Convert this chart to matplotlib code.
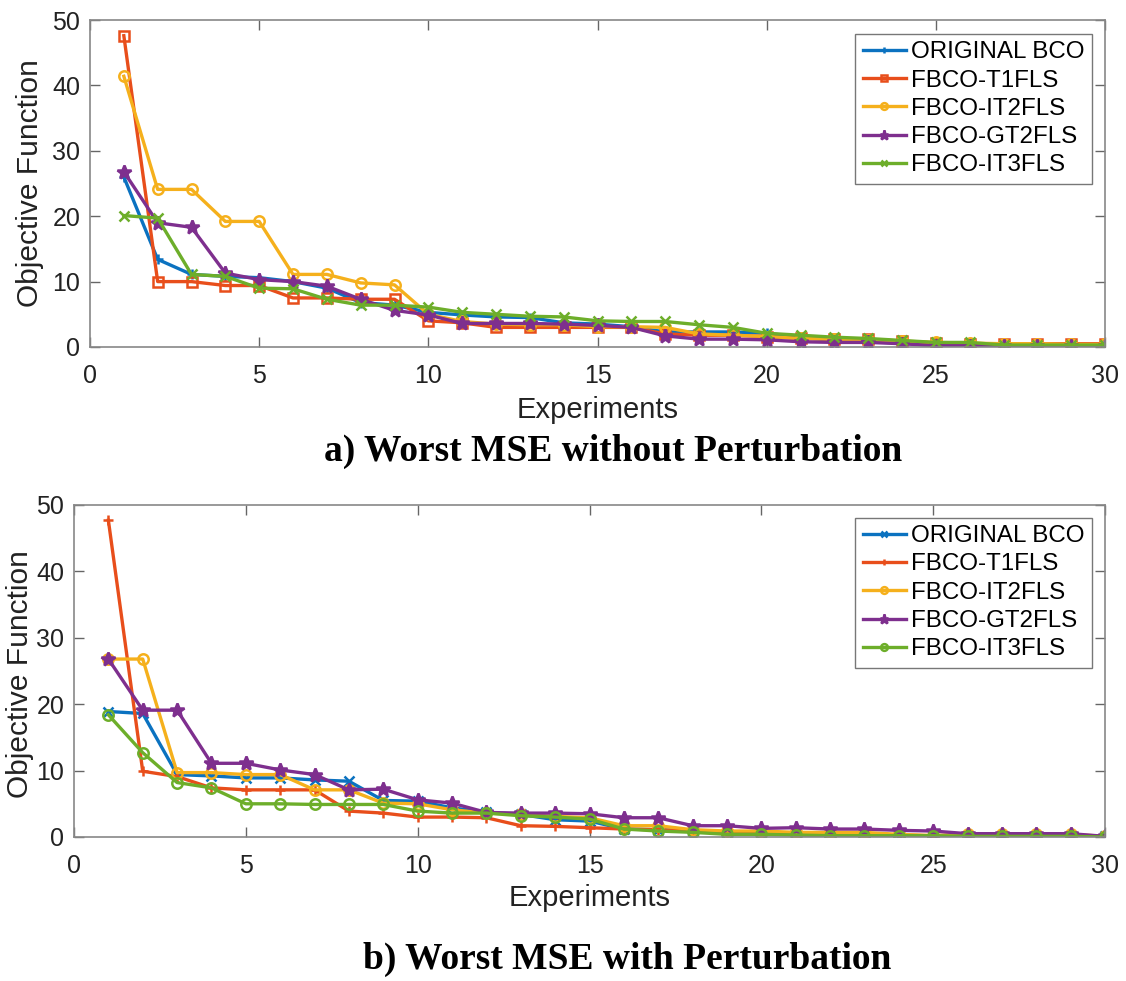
import matplotlib
matplotlib.use("Agg")
import matplotlib.pyplot as plt

experiments = list(range(1, 31))
series_names = ["ORIGINAL BCO", "FBCO-T1FLS", "FBCO-IT2FLS", "FBCO-GT2FLS", "FBCO-IT3FLS"]

# a) without perturbation
bco_a = [26.0, 13.4, 11.1, 10.8, 10.6, 10.0, 9.0, 6.8, 6.4, 5.3, 4.9, 4.6, 4.5, 3.7, 3.5,
         3.1, 2.3, 2.3, 2.3, 2.1, 1.5, 1.0, 0.8, 0.6, 0.2, 0.2, 0.1, 0.1, 0.1, 0.1]
t1_a = [47.6, 10.0, 10.0, 9.4, 9.4, 7.5, 7.5, 7.3, 7.3, 4.0, 3.7, 3.0, 3.0, 3.0, 3.0,
        3.0, 2.0, 1.8, 1.8, 1.6, 1.3, 1.2, 1.2, 0.9, 0.6, 0.5, 0.5, 0.5, 0.5, 0.5]
it2_a = [41.4, 24.1, 24.1, 19.2, 19.2, 11.1, 11.1, 9.8, 9.5, 5.0, 3.9, 3.5, 3.4, 3.4, 3.1,
         3.1, 3.0, 2.0, 1.8, 1.6, 1.3, 1.2, 1.1, 0.9, 0.7, 0.6, 0.5, 0.5, 0.4, 0.4]
gt2_a = [26.8, 19.0, 18.3, 11.3, 10.3, 10.0, 9.3, 7.3, 5.6, 4.9, 3.6, 3.6, 3.6, 3.5, 3.3,
         3.0, 1.7, 1.2, 1.2, 1.1, 0.8, 0.7, 0.7, 0.5, 0.2, 0.2, 0.2, 0.2, 0.2, 0.2]
it3_a = [20.1, 19.7, 11.1, 10.8, 9.0, 8.9, 7.3, 6.4, 6.4, 6.1, 5.3, 5.0, 4.7, 4.6, 4.0,
         3.9, 3.9, 3.4, 3.0, 2.1, 1.8, 1.5, 1.3, 1.0, 0.7, 0.7, 0.3, 0.3, 0.3, 0.3]

# b) with perturbation
bco_b = [18.9, 18.6, 9.4, 9.2, 8.9, 8.9, 8.6, 8.4, 5.5, 5.4, 4.4, 3.7, 3.4, 2.6, 2.4,
         1.2, 1.1, 0.9, 0.6, 0.5, 0.4, 0.3, 0.3, 0.2, 0.2, 0.1, 0.1, 0.1, 0.1, 0.1]
t1_b = [47.7, 9.9, 9.1, 7.4, 7.1, 7.1, 7.1, 3.9, 3.6, 3.0, 3.0, 2.9, 1.7, 1.6, 1.4,
        1.2, 1.1, 0.9, 0.6, 0.6, 0.4, 0.3, 0.3, 0.3, 0.2, 0.1, 0.1, 0.1, 0.1, 0.1]
it2_b = [26.8, 26.8, 9.7, 9.7, 9.4, 9.4, 7.1, 7.1, 5.1, 5.0, 4.1, 3.6, 3.4, 3.1, 2.9,
         1.7, 1.7, 1.1, 0.9, 0.9, 0.7, 0.7, 0.7, 0.4, 0.2, 0.5, 0.5, 0.5, 0.4, 0.1]
gt2_b = [26.8, 19.1, 19.1, 11.1, 11.1, 10.1, 9.4, 7.1, 7.2, 5.6, 5.1, 3.7, 3.6, 3.6, 3.5,
         2.9, 2.9, 1.7, 1.7, 1.3, 1.4, 1.2, 1.2, 1.0, 0.9, 0.5, 0.5, 0.5, 0.5, 0.1]
it3_b = [18.4, 12.7, 8.2, 7.4, 5.0, 5.0, 4.9, 4.9, 4.9, 3.9, 3.6, 3.6, 3.2, 3.0, 2.7,
         1.2, 0.9, 0.7, 0.4, 0.4, 0.3, 0.2, 0.2, 0.2, 0.2, 0.1, 0.1, 0.1, 0.1, 0.0]

x_ticks = [0, 5, 10, 15, 20, 25, 30]
y_ticks = [0, 10, 20, 30, 40, 50]
x_label = "Experiments"
y_label = "Objective Function"
titles = ["a) Worst MSE without Perturbation", "b) Worst MSE with Perturbation"]

colors = ["#0B72C0", "#E84E1B", "#F5B01C", "#7E2F8E", "#6DAE2A"]
markers_a = ["+", "s", "o", "*", "x"]
markers_b = ["x", "+", "o", "*", "o"]

plt.rcParams['font.family'] = ['Liberation Sans', 'DejaVu Sans']

W, H = 1126, 981
fig = plt.figure(figsize=(W / 100, H / 100), dpi=100)
# axes boxes in pixels: left, right, top, bottom
box_a = (90, 1105, 20, 347)
box_b = (74, 1105, 505, 837)

def make_axes(b):
    l, r, t, bt = b
    return fig.add_axes([l / W, 1 - bt / H, (r - l) / W, (bt - t) / H])

ax_a = make_axes(box_a)
ax_b = make_axes(box_b)

def draw(ax, box, data, markers, xlab_y, ylab_x, ylab_y, leg_anchor):
    for name, vals, c, m in zip(series_names, data, colors, markers):
        ms = 10 if m == "*" else 7.5
        ax.plot(experiments, vals, color=c, marker=m, markersize=ms, linewidth=2.4,
                markeredgewidth=1.8, markerfacecolor='none' if m in ("o", "s") else c,
                label=name)
    ax.set_xlim(0, 30)
    ax.set_ylim(0, 50)
    ax.set_xticks(x_ticks)
    ax.set_yticks(y_ticks)
    ax.tick_params(direction='in', top=True, right=True, labelsize=18, length=7,
                   color='#666666', width=1, labelcolor='#222222')
    ax.tick_params(axis='x', pad=12)
    ax.tick_params(axis='y', pad=7)
    for s in ax.spines.values():
        s.set_color('#888888')
        s.set_linewidth(1.2)
    l, r, t, bt = box
    ax.set_xlabel(x_label, fontsize=21, va='center', color='#222222')
    ax.xaxis.set_label_coords(0.5, (bt - xlab_y) / (bt - t))
    ax.set_ylabel(y_label, fontsize=21.5, va='center', color='#222222')
    ax.yaxis.set_label_coords((ylab_x - l) / (r - l), ylab_y)
    leg = ax.legend(loc='upper right', fontsize=17.4, frameon=True, fancybox=False,
                    edgecolor='#555555', handlelength=1.8, handletextpad=0.2,
                    borderpad=0.3, labelspacing=0.26, markerscale=0.65,
                    borderaxespad=0, bbox_to_anchor=leg_anchor)
    leg.get_frame().set_linewidth(1.0)

draw(ax_a, box_a, [bco_a, t1_a, it2_a, gt2_a, it3_a], markers_a,
     xlab_y=410, ylab_x=30, ylab_y=0.5, leg_anchor=(0.987, 0.957))
draw(ax_b, box_b, [bco_b, t1_b, it2_b, gt2_b, it3_b], markers_b,
     xlab_y=898, ylab_x=20, ylab_y=0.49, leg_anchor=(0.987, 0.961))

fig.text(613 / W, 1 - 451 / H, titles[0], ha='center', va='center',
         fontsize=27, fontweight='bold', family='Liberation Serif')
fig.text(627 / W, 1 - 959 / H, titles[1], ha='center', va='center',
         fontsize=27, fontweight='bold', family='Liberation Serif')

fig.savefig("out.png", dpi=100)
